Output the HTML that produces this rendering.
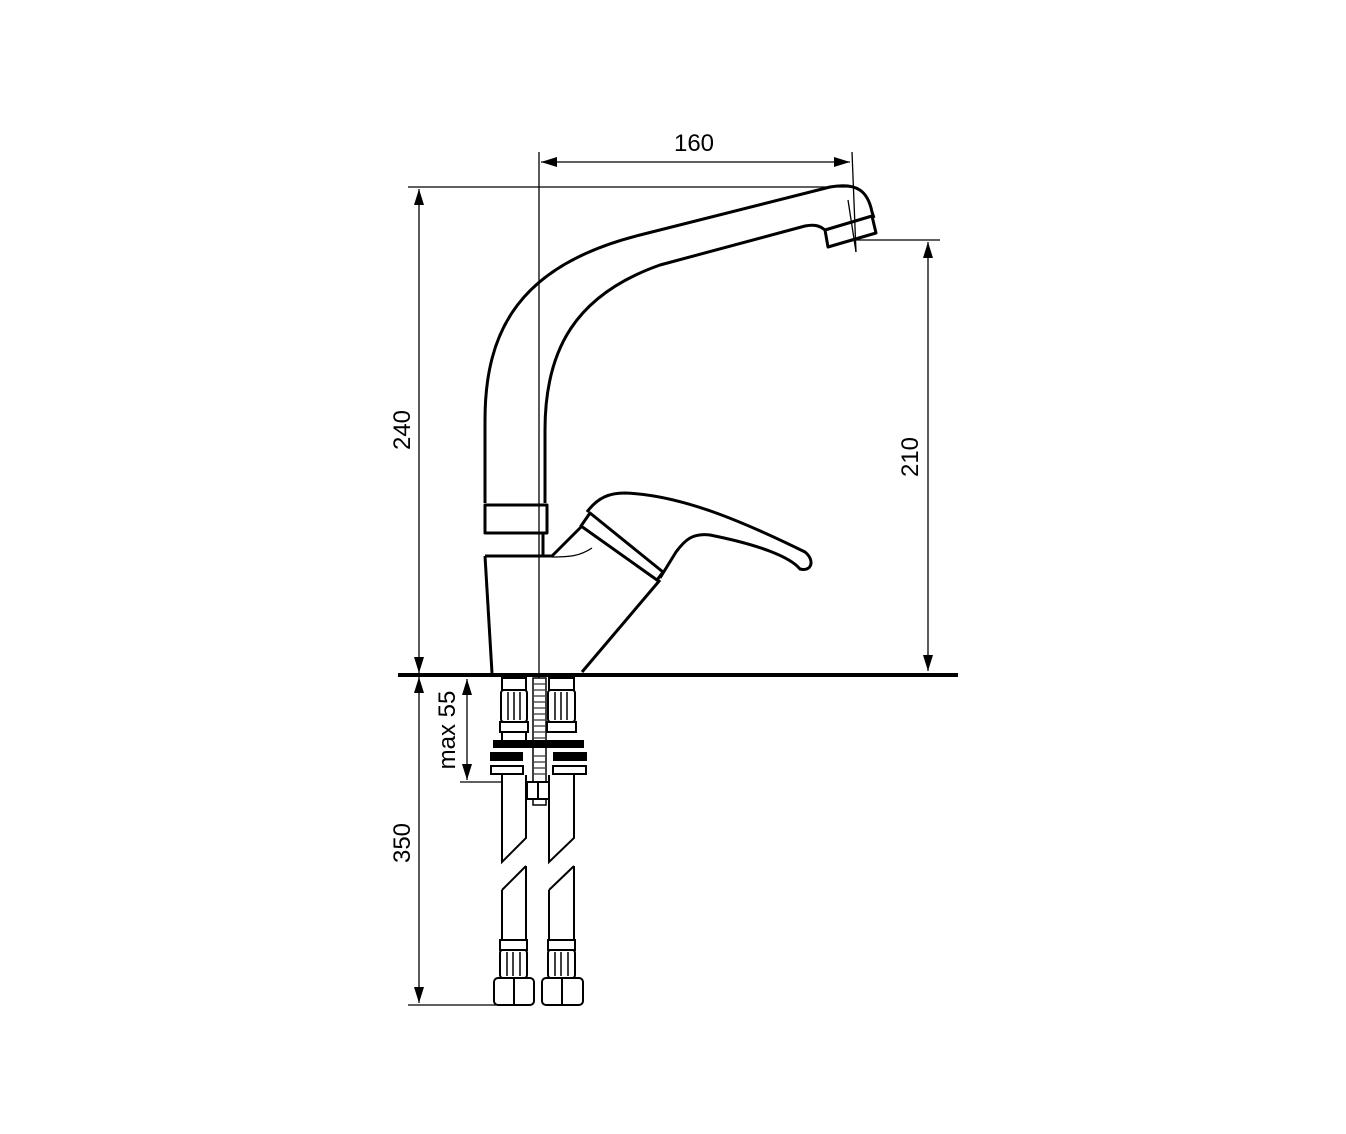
<!DOCTYPE html>
<html><head><style>html,body{margin:0;padding:0;background:#fff}svg{display:block}</style></head>
<body>
<svg width="1346" height="1134" viewBox="0 0 1346 1134" xmlns="http://www.w3.org/2000/svg" font-family="Liberation Sans, sans-serif">
<defs>
<marker id="a" viewBox="0 0 16 10" refX="16" refY="5" markerWidth="16" markerHeight="10" markerUnits="userSpaceOnUse" orient="auto-start-reverse"><path d="M0,0 L16,5 L0,10z" fill="#000"/></marker>
</defs>
<g stroke="#000" fill="none" stroke-width="1.3">
<line x1="539" y1="152" x2="539" y2="800"/>
<line x1="852" y1="152" x2="856" y2="252"/>
<line x1="541" y1="162" x2="850" y2="162" marker-start="url(#a)" marker-end="url(#a)"/>
<line x1="408" y1="187" x2="850" y2="187"/>
<line x1="419" y1="189" x2="419" y2="673" marker-start="url(#a)" marker-end="url(#a)"/>
<line x1="855" y1="240" x2="940" y2="240"/>
<line x1="928" y1="242" x2="928" y2="671" marker-start="url(#a)" marker-end="url(#a)"/>
<line x1="408" y1="1005" x2="500" y2="1005"/>
<line x1="419" y1="677" x2="419" y2="1003" marker-start="url(#a)" marker-end="url(#a)"/>
<line x1="460" y1="782" x2="535" y2="782"/>
<line x1="467" y1="679" x2="467" y2="780" marker-start="url(#a)" marker-end="url(#a)"/>
<line x1="848" y1="200" x2="856" y2="252"/>
</g>
<line x1="398" y1="675" x2="958" y2="675" stroke="#000" stroke-width="4"/>
<g fill="#000" font-size="24">
<text x="694" y="151" text-anchor="middle">160</text>
<text transform="translate(410,430) rotate(-90)" text-anchor="middle">240</text>
<text transform="translate(918,457) rotate(-90)" text-anchor="middle">210</text>
<text transform="translate(410,843) rotate(-90)" text-anchor="middle">350</text>
<text transform="translate(455,730) rotate(-90)" text-anchor="middle">max 55</text>
</g>
<g stroke="#000" fill="none" stroke-width="3" stroke-linejoin="round">
<path d="M485,503 L485,420 C485,330 520,265 640,235 L830,187 C858,182 868,192 872,212 L874,218"/>
<path d="M545,503 L545,430 C545,350 575,295 660,265 L805,226 C815,224 820,226 825,230"/>
<path d="M825,230 L872,216 L876,233 L828,247 Z"/>
<path d="M485,505 L547,505 L547,533 L485,533 Z"/>
<path d="M491,533 L543,533 L543,556"/>
<path d="M485,556 L492,673"/>
<path d="M485,556 L552,556 L582,526"/>
<path d="M582,672 L660,580"/>
<path d="M587,512 C598,497 610,493 625,493 C680,495 740,520 805,552 C815,560 812,572 800,569 C790,557 760,545 710,535 C692,533 685,540 676,552 L660,578"/>
<path d="M590,513 L663,572 L657,580 L581,526 Z"/>
</g>
<path d="M552,557 C570,557 580,556 592,548" stroke="#000" fill="none" stroke-width="1.3"/>
<g stroke="#000" fill="#fff" stroke-width="2">
<rect x="533" y="678" width="13" height="127" stroke-width="1.5"/>
<g stroke-width="1">
<path d="M534,684h11M534,690h11M534,696h11M534,702h11M534,708h11M534,714h11M534,720h11M534,726h11M534,732h11M534,738h11M534,756h11M534,762h11M534,768h11M534,774h11"/>
</g>
<path d="M502,678 V740 M526,678 V740" />
<rect x="502" y="678" width="24" height="12"/>
<rect x="501" y="690" width="26" height="32" rx="3"/>
<path d="M508,692V720M514,692V720M520,692V720" stroke-width="1.5"/>
<rect x="500" y="722" width="28" height="10"/>
<rect x="549" y="678" width="25" height="12"/>
<rect x="548" y="690" width="27" height="32" rx="3"/>
<path d="M555,692V720M561,692V720M567,692V720" stroke-width="1.5"/>
<rect x="547" y="722" width="29" height="10"/>
<path d="M502,775 V862 L526,838 V775 M502,890 L526,866 M526,866 V940 M502,890 V940"/>
<path d="M549,775 V862 L574,838 V775 M549,890 L574,866 M574,866 V940 M549,890 V940"/>
<rect x="491" y="766" width="32" height="8"/>
<rect x="553" y="766" width="33" height="8"/>
<rect x="527" y="782" width="22" height="17"/>
<line x1="538" y1="782" x2="538" y2="799"/>
<rect x="500" y="940" width="27" height="10"/>
<rect x="500" y="950" width="27" height="28" rx="3"/>
<path d="M507,952V976M513,952V976M520,952V976" stroke-width="1.5"/>
<rect x="494" y="978" width="40" height="27" rx="4"/>
<line x1="514" y1="978" x2="514" y2="1005"/>
<rect x="548" y="940" width="27" height="10"/>
<rect x="548" y="950" width="27" height="28" rx="3"/>
<path d="M555,952V976M561,952V976M568,952V976" stroke-width="1.5"/>
<rect x="542" y="978" width="41" height="27" rx="4"/>
<line x1="562" y1="978" x2="562" y2="1005"/>
</g>
<g fill="#000">
<rect x="493" y="740" width="91" height="8"/>
<rect x="490" y="752" width="33" height="9"/>
<rect x="553" y="752" width="34" height="9"/>
</g>
</svg>
</body></html>
